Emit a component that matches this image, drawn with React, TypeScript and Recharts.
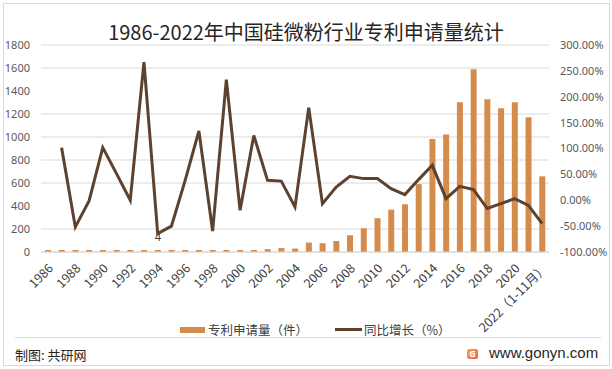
import React from "react";
import {
	ComposedChart,
	Bar,
	Line,
	XAxis,
	YAxis,
	CartesianGrid,
	Legend,
	LabelList,
} from "recharts";

const years = [
	"1986", "1987", "1988", "1989", "1990", "1991", "1992", "1993", "1994", "1995",
	"1996", "1997", "1998", "1999", "2000", "2001", "2002", "2003", "2004", "2005",
	"2006", "2007", "2008", "2009", "2010", "2011", "2012", "2013", "2014", "2015",
	"2016", "2017", "2018", "2019", "2020", "2021", "2022（1-11月）",
];

// 专利申请量（件）
const applications = [
	1, 2, 1, 1, 2, 3, 3, 11, 4, 2,
	3, 7, 3, 10, 8, 18, 25, 34, 30, 82,
	77, 96, 146, 206, 294, 368, 415, 590, 983, 1022,
	1302, 1589, 1328, 1249, 1302, 1172, 658,
];

// 同比增长（%）
const growth = [
	null, 101.7, -51.7, -1.4, 101.7, 51.5, 0, 267, -64.5, -50,
	38.5, 133.8, -59.4, 233, -19.4, 125, 38.5, 37, -13, 179,
	-6.5, 25.6, 46.3, 41.8, 41.8, 22.5, 10.9, 39.9, 67.5, 3.2,
	27, 20.6, -16, -6.5, 3.2, -9.8, -45,
];

const leftTicks = [0, 200, 400, 600, 800, 1000, 1200, 1400, 1600, 1800];
const rightTicks = [-100, -50, 0, 50, 100, 150, 200, 250, 300];

const data = years.map((y, i) => ({
	year: y,
	apps: applications[i],
	growth: growth[i],
}));

const BAR = "#d48b4c";
const LINE = "#5d4230";
const FONT = "'Noto Sans', 'Noto Sans CJK SC', sans-serif";
const CJK = "'Noto Sans CJK SC', sans-serif";

const YearTick = (props: any) => {
	const { x, y, payload } = props;
	return (
		<g transform={`translate(${x + 3},${y + 6})`}>
			<text
				transform='rotate(-45)'
				textAnchor='end'
				dy='0.35em'
				fontSize={12.5}
				fontFamily={CJK}
				fill='#404040'>
				{payload.value}
			</text>
		</g>
	);
};

const OnlyOne = (props: any) => {
	const { x, y, width, value, index } = props;
	if (index !== 8) return null;
	return (
		<text
			x={x + width / 2}
			y={y - 13}
			textAnchor='middle'
			dy='0.35em'
			fontSize={11}
			fontFamily={FONT}
			fill='#404040'>
			{value}
		</text>
	);
};

const LegendBox = () => (
	<div
		style={{
			display: "flex",
			alignItems: "center",
			fontFamily: CJK,
			fontSize: 12.5,
			color: "#404040",
			whiteSpace: "nowrap",
		}}>
		<span style={{ display: "inline-block", width: 25, height: 6, background: BAR, marginRight: 3 }} />
		<span>专利申请量（件）</span>
		<span style={{ display: "inline-block", width: 27, height: 3, background: LINE, marginLeft: 27, marginRight: 2 }} />
		<span>同比增长（%）</span>
	</div>
);

export default function App() {
	return (
		<div
			style={{
				position: "absolute",
				left: 0,
				top: 0,
				width: 612,
				height: 369,
				background: "#fff",
				overflow: "hidden",
			}}>
			<div
				style={{
					position: "absolute",
					left: 3,
					top: 3,
					width: 605,
					height: 361,
					border: "1px solid #d9d9d9",
				}}
			/>
			<div
				style={{
					position: "absolute",
					left: 0,
					width: 612,
					top: 18,
					textAlign: "center",
					fontFamily: CJK,
					fontSize: 20,
					lineHeight: "28px",
					color: "#262626",
				}}>
				1986-2022年中国硅微粉行业专利申请量统计
			</div>
			<div style={{ position: "absolute", left: 0, top: 0 }}>
				<ComposedChart
					width={612}
					height={369}
					data={data}
					margin={{ top: 45, right: 0, left: 0, bottom: 57 }}>
					<CartesianGrid vertical={false} stroke='#d9d9d9' yAxisId='left' />
					<XAxis
						dataKey='year'
						interval={1}
						tickLine={false}
						axisLine={{ stroke: "#d9d9d9" }}
						height={60}
						tick={<YearTick />}
					/>
					<YAxis
						yAxisId='left'
						domain={[0, 1800]}
						ticks={leftTicks}
						width={41}
						axisLine={false}
						tickLine={false}
						tickMargin={5}
						tick={{ fontSize: 11, fill: "#595959", fontFamily: FONT }}
					/>
					<YAxis
						yAxisId='right'
						orientation='right'
						domain={[-100, 300]}
						ticks={rightTicks}
						width={63}
						axisLine={false}
						tickLine={false}
						tickMargin={5}
						tickFormatter={(v: number) => `${v.toFixed(2)}%`}
						tick={{ fontSize: 11, fill: "#595959", fontFamily: FONT, textAnchor: "start" }}
					/>
					<Bar
						yAxisId='left'
						dataKey='apps'
						name='专利申请量（件）'
						fill={BAR}
						barSize={6}
						minPointSize={2}
						isAnimationActive={false}>
						<LabelList dataKey='apps' content={<OnlyOne />} />
					</Bar>
					<Line
						yAxisId='right'
						dataKey='growth'
						name='同比增长（%）'
						stroke={LINE}
						strokeWidth={3}
						dot={false}
						type='linear'
						isAnimationActive={false}
					/>
					<Legend
						layout='vertical'
						align='center'
						verticalAlign='middle'
						wrapperStyle={{ top: 320, left: 180, width: 300, height: 20 }}
						content={<LegendBox />}
					/>
				</ComposedChart>
			</div>
			<div
				style={{
					position: "absolute",
					left: 15,
					top: 337,
					width: 586,
					height: 1,
					background: "#d9d9d9",
				}}
			/>
			<div
				style={{
					position: "absolute",
					left: 15,
					top: 345,
					fontFamily: CJK,
					fontSize: 13,
					lineHeight: "20px",
					color: "#262626",
				}}>
				制图: 共研网
			</div>
			<div
				style={{
					position: "absolute",
					left: 467,
					top: 349,
					width: 11,
					height: 10,
					borderRadius: 2,
					background: "linear-gradient(135deg, #f7a35c, #e8643c)",
					color: "#fff",
					fontSize: 9,
					lineHeight: "10px",
					textAlign: "center",
					fontFamily: FONT,
					fontWeight: 700,
				}}>
				G
			</div>
			<div
				style={{
					position: "absolute",
					left: 489,
					top: 343,
					fontFamily: "'Liberation Sans', Arial, sans-serif",
					fontSize: 15,
					lineHeight: "20px",
					color: "#262626",
				}}>
				www.gonyn.com
			</div>
		</div>
	);
}
